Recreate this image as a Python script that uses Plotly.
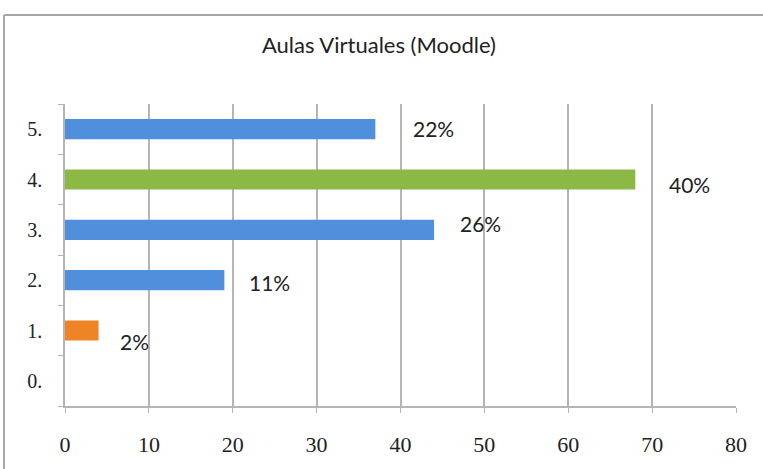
import plotly.graph_objects as go

categories = ["0.", "1.", "2.", "3.", "4.", "5."]
values = [0, 4, 19, 44, 68, 37]
labels = ["", "2%", "11%", "26%", "40%", "22%"]
bar_colors = ["#4F8FDC", "#EE8426", "#4F8FDC", "#4F8FDC", "#8CB946", "#4F8FDC"]
x_ticks = [0, 10, 20, 30, 40, 50, 60, 70, 80]

# label placement (style)
label_dx = [0, 4.3, 5.4, 5.5, 6.5, 6.9]
label_dy = [0, -11, -2, 6, -5, 1]

fig = go.Figure()
fig.add_trace(go.Bar(
    y=categories, x=values, orientation="h",
    marker=dict(color=bar_colors, line=dict(width=0)),
    width=0.4, hoverinfo="skip",
))

for c, v, lab, dx, dy in zip(categories, values, labels, label_dx, label_dy):
    if lab:
        fig.add_annotation(x=v + dx, y=c, text=lab, showarrow=False,
                           xanchor="center", yanchor="middle", yshift=dy,
                           font=dict(family="Lato, Open Sans, sans-serif", size=21, color="#222222"))

grid_col = "#B5B5B5"
fig.update_layout(
    width=763, height=469,
    margin=dict(l=65, r=27, t=104, b=63),
    paper_bgcolor="white", plot_bgcolor="white",
    showlegend=False,
    title=dict(text="Aulas Virtuales (Moodle)", x=379/763, xanchor="center",
               y=1 - 45/469, yanchor="middle",
               font=dict(family="Lato, Open Sans, sans-serif", size=22, color="#222222")),
    xaxis=dict(range=[0, 80], tickvals=x_ticks, showgrid=True, gridcolor=grid_col, gridwidth=1.5,
               zeroline=False, showline=True, linecolor=grid_col, linewidth=1.5,
               ticks="outside", ticklen=5, tickcolor=grid_col, ticklabelstandoff=13,
               tickfont=dict(family="Liberation Serif, DejaVu Serif, serif", size=22, color="#222222")),
    yaxis=dict(type="category", categoryorder="array", categoryarray=categories,
               range=[-0.5, 5.5], showgrid=False, zeroline=False,
               showline=True, linecolor=grid_col, linewidth=1.5,
               ticks="outside", ticklen=5, tickcolor=grid_col, tickson="boundaries",
               ticklabelstandoff=17,
               tickfont=dict(family="Liberation Serif, DejaVu Serif, serif", size=20, color="#222222")),
)

# outer frame (top and left edges)
x_left = (4 - 65) / 671
y_top = (406 - 15) / 302
fig.add_shape(type="line", xref="paper", yref="paper", x0=x_left, x1=1.2, y0=y_top, y1=y_top,
              line=dict(color="#A8A8A8", width=2))
fig.add_shape(type="line", xref="paper", yref="paper", x0=x_left, x1=x_left, y0=y_top, y1=-0.4,
              line=dict(color="#A8A8A8", width=2))

fig.write_html("out.html", config={"displayModeBar": False},
               post_script="document.body.style.margin='0';")
